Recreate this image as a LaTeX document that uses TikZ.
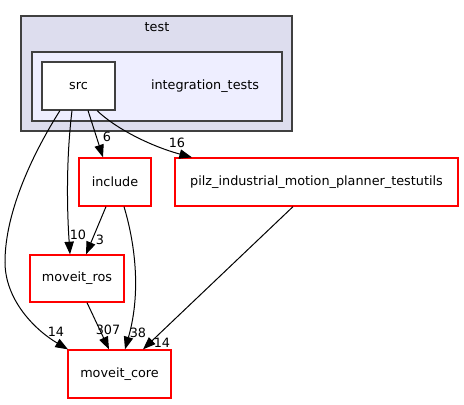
\documentclass[tikz,border=0pt]{standalone}
\usepackage{fontspec}
\setmainfont{DejaVu Sans}
\usetikzlibrary{arrows.meta,calc}
\definecolor{outerfill}{HTML}{DDDDEE}
\definecolor{innerfill}{HTML}{EEEEFF}
\definecolor{clusterline}{HTML}{404040}
\tikzset{
  dirbox/.style={draw=red, fill=white, line width=0.95pt, inner sep=0pt, font=\fontsize{9.6}{11}\selectfont},
  cluster/.style={draw=clusterline, line width=0.8pt, inner sep=0pt},
  dep/.style={draw=black, line width=0.75pt, -{Triangle[length=9.5pt,width=7pt]}},
  elabel/.style={font=\fontsize{9.6}{11}\selectfont, inner sep=0pt},
}
\begin{document}
\begin{tikzpicture}[x=0.75pt,y=-0.75pt]
\useasboundingbox (0,0) rectangle (464,404);
% clusters
\node[cluster, fill=outerfill, minimum width=203.25pt, minimum height=86.25pt] (test) at (156.5,73.5) {};
\node[font=\fontsize{9.6}{11}\selectfont] (testlbl) at (157,27) {test};
\node[cluster, fill=innerfill, minimum width=187.5pt, minimum height=51.75pt] (integ) at (157,86.5) {};
\node[font=\fontsize{9.6}{11}\selectfont] (integlbl) at (205,86) {integration\_tests};
\node[cluster, fill=white, minimum width=54.75pt, minimum height=36pt, font=\fontsize{9.6}{11}\selectfont] (src) at (78.5,86) {src};
% nodes
\node[dirbox, minimum width=54pt, minimum height=36pt] (include) at (115,182) {include};
\node[dirbox, minimum width=212.25pt, minimum height=36pt] (pilz) at (316.5,182) {pilz\_industrial\_motion\_planner\_testutils};
\node[dirbox, minimum width=70.5pt, minimum height=35.25pt] (ros) at (77,278.5) {moveit\_ros};
\node[dirbox, minimum width=77.25pt, minimum height=36pt] (core) at (119.5,374) {moveit\_core};
% edges
\draw[dep] (88,0 |- src.south) -- (103,0 |- include.north);
\node[elabel] (l6) at (107,137) {6};
\draw[dep] (97,0 |- src.south) .. controls (115,128) and (150,146) .. (192,0 |- pilz.north);
\node[elabel] (l16) at (177,143) {16};
\draw[dep] (72,0 |- src.south) .. controls (66,160) and (67,210) .. (70,0 |- ros.north);
\node[elabel] (l10) at (78,235) {10};
\draw[dep] (60,0 |- src.south) .. controls (35,150) and (5,210) .. (5,262) .. controls (5,300) and (35,330) .. (68,0 |- core.north);
\node[elabel] (l14a) at (56,332) {14};
\draw[dep] (106,0 |- include.south) -- (86,0 |- ros.north);
\node[elabel] (l3) at (100,240) {3};
\draw[dep] (124,0 |- include.south) .. controls (134,240) and (142,290) .. (125,0 |- core.north);
\node[elabel] (l38) at (138,333) {38};
\draw[dep] (87,0 |- ros.south) -- (109,0 |- core.north);
\node[elabel] (l307) at (108,330) {307};
\draw[dep] (293,0 |- pilz.south) -- (143,0 |- core.north);
\node[elabel] (l14b) at (162,343) {14};
\end{tikzpicture}
\end{document}
